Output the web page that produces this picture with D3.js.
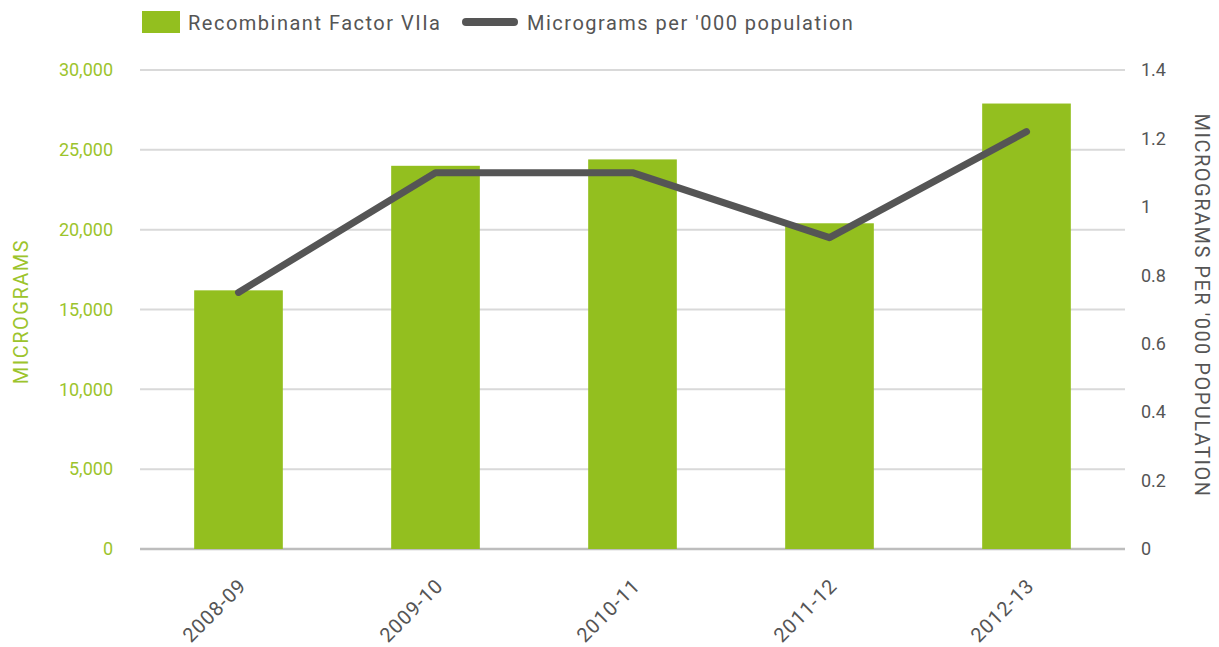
<!DOCTYPE html>
<html>
<head>
<meta charset="utf-8">
<script src="https://cdn.jsdelivr.net/npm/d3@7"></script>
<style>
  html, body { margin: 0; padding: 0; background: #fff; }
  svg text { font-family: Roboto, "Noto Sans", sans-serif; }
</style>
</head>
<body>
<div id="chart"></div>
<script>
// data
const categories = ["2008-09", "2009-10", "2010-11", "2011-12", "2012-13"];
const micrograms = [16200, 24000, 24400, 20400, 27900];
const perThousand = [0.75, 1.1, 1.1, 0.91, 1.22];
const leftTicks = [0, 5000, 10000, 15000, 20000, 25000, 30000];
const rightTicks = [0, 0.2, 0.4, 0.6, 0.8, 1, 1.2, 1.4];

const W = 1219, H = 647;
const margin = { top: 70, right: 94, bottom: 98, left: 140 };
const width = W - margin.left - margin.right;
const height = H - margin.top - margin.bottom;

const GREEN = "#93bf1f";
const LABEL_GREEN = "#9cc42c";
const DARK = "#555555";

const svg = d3.select("#chart").append("svg")
    .attr("width", W)
    .attr("height", H);

const g = svg.append("g")
    .attr("transform", `translate(${margin.left},${margin.top})`);

const x = d3.scaleBand()
    .domain(categories)
    .range([0, width])
    .paddingInner(0.55)
    .paddingOuter(0.275);

const yL = d3.scaleLinear().domain([0, 30000]).range([height, 0]);
const yR = d3.scaleLinear().domain([0, 1.4]).range([height, 0]);

// gridlines
g.append("g")
    .selectAll("line")
    .data(leftTicks)
    .enter().append("line")
    .attr("x1", 0)
    .attr("x2", width)
    .attr("y1", d => yL(d))
    .attr("y2", d => yL(d))
    .style("stroke", d => d === 0 ? "#bdbdbd" : "#d9d9d9")
    .style("stroke-width", d => d === 0 ? 2.5 : 2);

// left axis
const leftAxis = g.append("g")
    .call(d3.axisLeft(yL).tickValues(leftTicks).tickSize(0).tickPadding(27)
        .tickFormat(d3.format(",")));
leftAxis.select(".domain").remove();
leftAxis.selectAll("text")
    .style("font-size", "18px")
    .style("fill", LABEL_GREEN);

// right axis
const rightAxis = g.append("g")
    .attr("transform", `translate(${width},0)`)
    .call(d3.axisRight(yR).tickValues(rightTicks).tickSize(0).tickPadding(16)
        .tickFormat(d => d3.format("")(+d.toFixed(1))));
rightAxis.select(".domain").remove();
rightAxis.selectAll("text")
    .style("font-size", "18px")
    .style("fill", DARK);

// bars
g.selectAll(".bar")
    .data(categories)
    .enter().append("rect")
    .attr("class", "bar")
    .attr("x", d => x(d))
    .attr("width", x.bandwidth())
    .attr("y", (d, i) => yL(micrograms[i]))
    .attr("height", (d, i) => height - yL(micrograms[i]))
    .style("fill", GREEN);

// line
const line = d3.line()
    .x((d, i) => x(categories[i]) + x.bandwidth() / 2)
    .y(d => yR(d));

g.append("path")
    .datum(perThousand)
    .attr("d", line)
    .style("fill", "none")
    .style("stroke", DARK)
    .style("stroke-width", 7)
    .style("stroke-linejoin", "round")
    .style("stroke-linecap", "round");

// x labels
g.append("g")
    .selectAll("text")
    .data(categories)
    .enter().append("text")
    .attr("transform", d => `translate(${x(d) + x.bandwidth() / 2 + 9},${height + 38}) rotate(-45)`)
    .attr("text-anchor", "end")
    .style("font-size", "20px")
    .style("letter-spacing", "1px")
    .style("fill", DARK)
    .text(d => d);

// axis titles
svg.append("text")
    .attr("transform", `translate(28,${margin.top + yL(15000) + 2}) rotate(-90)`)
    .attr("text-anchor", "middle")
    .style("font-size", "20px")
    .style("letter-spacing", "1.5px")
    .style("fill", LABEL_GREEN)
    .text("MICROGRAMS");

svg.append("text")
    .attr("transform", `translate(1195,${margin.top + yR(0.7) - 4}) rotate(90)`)
    .attr("text-anchor", "middle")
    .style("font-size", "20px")
    .style("letter-spacing", "1.5px")
    .style("fill", DARK)
    .text("MICROGRAMS PER '000 POPULATION");

// legend
const legend = svg.append("g");
legend.append("rect")
    .attr("x", 142).attr("y", 11)
    .attr("width", 38).attr("height", 22)
    .style("fill", GREEN);
legend.append("text")
    .attr("x", 188).attr("y", 30)
    .style("font-size", "20px")
    .style("letter-spacing", "1.5px")
    .style("fill", DARK)
    .text("Recombinant Factor VIIa");
legend.append("line")
    .attr("x1", 466).attr("x2", 514)
    .attr("y1", 22).attr("y2", 22)
    .style("stroke", DARK)
    .style("stroke-width", 8)
    .style("stroke-linecap", "round");
legend.append("text")
    .attr("x", 527).attr("y", 30)
    .style("font-size", "20px")
    .style("letter-spacing", "1.5px")
    .style("fill", DARK)
    .text("Micrograms per '000 population");
</script>
</body>
</html>
